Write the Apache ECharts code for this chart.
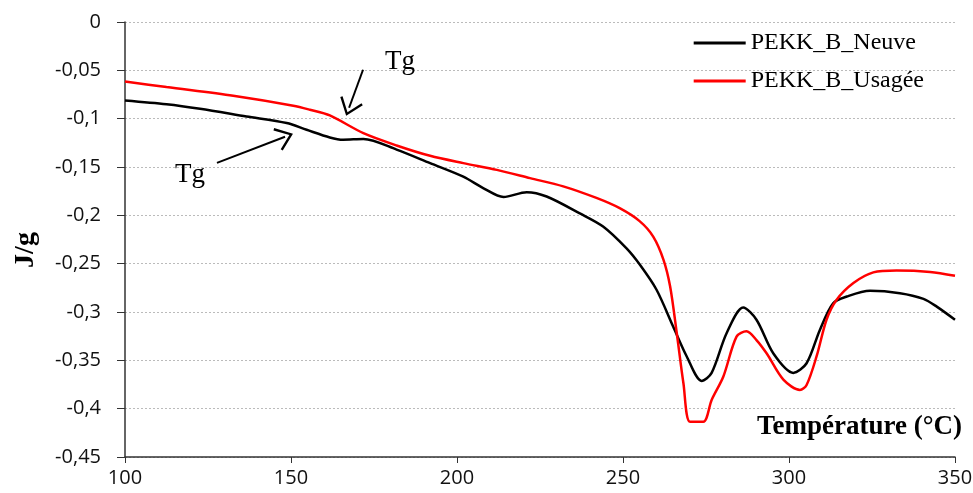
<!DOCTYPE html>
<html><head><meta charset="utf-8">
<script src="https://cdn.jsdelivr.net/npm/echarts@6/dist/echarts.min.js"></script>
<style>html,body{margin:0;padding:0;background:#fff}#c{width:973px;height:493px}</style>
</head><body><div id="c"></div>
<script>
const neuveT = [100,112.5,122.6,136.6,148.7,154.7,161.7,165.7,171.8,181.8,191.9,201.9,208,214,221,227,237,244,251,255.1,260.1,265.1,269.2,273.7,276.7,281.2,286.2,290.2,295.3,301.3,305.3,309.3,313.3,317.4,324.4,333.4,340.5,344.5,350];
const neuveV = [-0.0811,-0.085,-0.0897,-0.0977,-0.1045,-0.1115,-0.1194,-0.1218,-0.121,-0.132,-0.146,-0.16,-0.172,-0.181,-0.176,-0.1805,-0.198,-0.2116,-0.234,-0.2512,-0.277,-0.315,-0.346,-0.3713,-0.363,-0.322,-0.2954,-0.308,-0.343,-0.363,-0.353,-0.3185,-0.291,-0.284,-0.278,-0.2805,-0.2864,-0.2944,-0.308];
const usageeT = [100,112.5,132.6,150.7,155.7,161.7,171.8,181.8,191.9,201.9,212,222,232,242,249,255,259.1,262.2,264.2,266.2,268.2,270.2,274.2,276.7,280.2,284.2,287.2,290.2,293.3,298.3,303.3,305.3,308.3,311.3,314.3,319.4,325.4,332.4,342.5,350];
const usageeV = [-0.0615,-0.0673,-0.0763,-0.0866,-0.0908,-0.0967,-0.115,-0.1277,-0.1384,-0.146,-0.153,-0.1615,-0.170,-0.182,-0.1926,-0.206,-0.222,-0.246,-0.2737,-0.322,-0.3737,-0.4135,-0.4135,-0.391,-0.367,-0.3255,-0.320,-0.329,-0.343,-0.370,-0.3806,-0.3755,-0.346,-0.308,-0.2875,-0.270,-0.259,-0.257,-0.2585,-0.2626];
const seriesNames = ['PEKK_B_Neuve','PEKK_B_Usagée'];
const tgLabels = [[182.8,-0.041],[119.6,-0.158]];
const tgArrows = [[[171.7,-0.0494],[167.5,-0.0887]],[[127.7,-0.1457],[148.2,-0.1187]]];

const zip = (a,b)=>a.map((x,i)=>[x,b[i]]);
const serif = '"Liberation Serif","DejaVu Serif",serif';
const sans = '"Open Sans","Liberation Sans",sans-serif';
const arrowSym = 'path://M0,0 L10,13 L8.4,14.2 L0,3.2 L-8.4,14.2 L-10,13 Z';
const fmt = v => String(+v.toFixed(2)).replace('.', ',');

const chart = echarts.init(document.getElementById('c'));
chart.setOption({
  animation:false,
  backgroundColor:'#fff',
  grid:{left:125,right:18,top:22,bottom:36,containLabel:false,outerBoundsMode:'none'},
  legend:{
    orient:'vertical', right:44, top:26, itemWidth:52, itemHeight:12, itemGap:14,
    textStyle:{fontFamily:serif,fontSize:24,color:'#000'},
    icon:'path://M0,0 L52,0 L52,3 L0,3 Z',
    data:seriesNames
  },
  xAxis:{
    type:'value', min:100, max:350, interval:50,
    axisLine:{onZero:false,lineStyle:{color:'#333',width:1.5}},
    axisTick:{show:true,length:6,lineStyle:{color:'#333'}},
    axisLabel:{fontFamily:sans,fontSize:20,color:'#111',margin:11},
    splitLine:{show:false}
  },
  yAxis:{
    type:'value', min:-0.45, max:0, interval:0.05,
    axisLine:{show:true,lineStyle:{color:'#333',width:1.5}},
    axisTick:{show:true,length:8,lineStyle:{color:'#333'}},
    axisLabel:{fontFamily:sans,fontSize:20,color:'#111',margin:24,formatter:fmt},
    splitLine:{show:true,lineStyle:{color:'#bbb',type:[2,2],width:1}}
  },
  graphic:[
    {type:'text',right:11,top:414,style:{text:'Température (°C)',font:'bold 27px '+serif,fill:'#000'}},
    {type:'text',x:26,y:250,rotation:Math.PI/2,style:{text:'J/g',font:'bold 28px '+serif,fill:'#000',align:'center',verticalAlign:'middle'}}
  ],
  series:[
    {name:seriesNames[0],type:'line',data:zip(neuveT,neuveV),smooth:0.3,showSymbol:false,
     lineStyle:{color:'#000',width:2.5},itemStyle:{color:'#000'},
     markLine:{silent:true,symbol:['none',arrowSym],symbolSize:[24,17],
       lineStyle:{color:'#000',width:2,type:'solid'},itemStyle:{color:'#000'},label:{show:false},
       data:tgArrows.map(a=>[{coord:a[0]},{coord:a[1]}])},
     markPoint:{symbol:'circle',symbolSize:0,
       label:{show:true,formatter:'Tg',fontFamily:serif,fontSize:27,color:'#000'},
       data:tgLabels.map(p=>({coord:p}))}
    },
    {name:seriesNames[1],type:'line',data:zip(usageeT,usageeV),smooth:0.3,showSymbol:false,
     lineStyle:{color:'#ff0000',width:2.5},itemStyle:{color:'#ff0000'}}
  ]
});
</script></body></html>
